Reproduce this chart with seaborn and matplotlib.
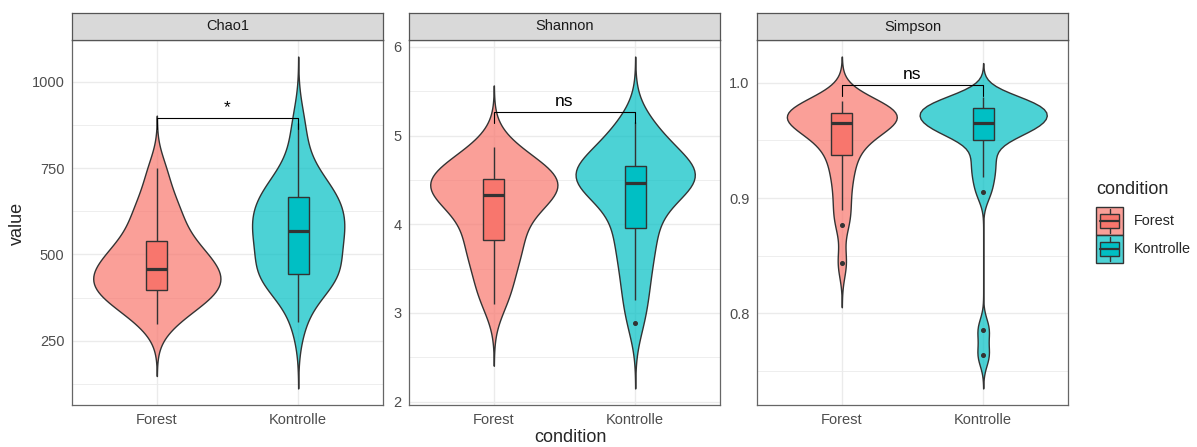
import numpy as np
import pandas as pd
import matplotlib
matplotlib.use("Agg")
import matplotlib.pyplot as plt
import seaborn as sns
from matplotlib.patches import Rectangle
from matplotlib.lines import Line2D
from matplotlib.legend_handler import HandlerBase
from matplotlib.ticker import FixedLocator

# ---------------- data ----------------
conditions = ["Forest", "Kontrolle"]
metrics = ["Chao1", "Shannon", "Simpson"]

chao1_forest = [300, 330, 350, 365, 380, 390, 397, 408, 418, 428, 438, 448, 458,
                470, 482, 495, 510, 525, 540, 565, 595, 620, 645, 690, 750]
chao1_kontrolle = [305, 390, 415, 430, 438, 442, 445, 475, 500, 520, 538, 552, 567,
                   580, 592, 605, 620, 640, 665, 670, 680, 700, 730, 790, 880]
shannon_forest = [3.10, 3.25, 3.40, 3.55, 3.68, 3.75, 3.82, 3.95, 4.05, 4.15, 4.22, 4.28, 4.33,
                  4.37, 4.40, 4.43, 4.45, 4.48, 4.51, 4.55, 4.60, 4.65, 4.70, 4.78, 4.87]
shannon_kontrolle = [2.89, 3.15, 3.35, 3.55, 3.70, 3.85, 3.96, 4.10, 4.25, 4.34, 4.41, 4.45, 4.47,
                     4.50, 4.53, 4.56, 4.59, 4.62, 4.66, 4.70, 4.76, 4.85, 4.96, 5.05, 5.15]
simpson_forest = [0.844, 0.877, 0.890, 0.905, 0.918, 0.928, 0.937, 0.945, 0.951, 0.955, 0.959,
                  0.962, 0.965, 0.967, 0.968, 0.969, 0.970, 0.972, 0.9735, 0.975, 0.977,
                  0.979, 0.980, 0.982, 0.984]
simpson_kontrolle = [0.764, 0.786, 0.905, 0.918, 0.928, 0.938, 0.9506, 0.955, 0.958, 0.960,
                     0.962, 0.964, 0.965, 0.967, 0.969, 0.971, 0.973, 0.975, 0.978, 0.979,
                     0.980, 0.981, 0.983, 0.985, 0.988]

sig_labels = ["*", "ns", "ns"]
sig_y = [894, 5.27, 0.998]

y_major_ticks = [[250, 500, 750, 1000], [2, 3, 4, 5, 6], [0.8, 0.9, 1.0]]
y_minor_ticks = [[125, 375, 625, 875], [2.5, 3.5, 4.5, 5.5], [0.75, 0.85, 0.95]]
y_tick_labels = [["250", "500", "750", "1000"], ["2", "3", "4", "5", "6"], ["0.8", "0.9", "1.0"]]

groups = {
    "Chao1": {"Forest": chao1_forest, "Kontrolle": chao1_kontrolle},
    "Shannon": {"Forest": shannon_forest, "Kontrolle": shannon_kontrolle},
    "Simpson": {"Forest": simpson_forest, "Kontrolle": simpson_kontrolle},
}
rows = []
for m in metrics:
    for c in conditions:
        for v in groups[m][c]:
            rows.append({"variable": m, "condition": c, "value": v})
df = pd.DataFrame(rows)

# ---------------- style ----------------
sns.set_style("white")
plt.rcParams["font.family"] = ["Liberation Sans", "DejaVu Sans"]

colors = {"Forest": "#F8766D", "Kontrolle": "#00BFC4"}
line_c = "#333333"


def nrd0(x):
    x = np.asarray(x, float)
    sd = x.std(ddof=1)
    q75, q25 = np.percentile(x, [75, 25])
    lo = min(sd, (q75 - q25) / 1.34)
    return 0.9 * lo * len(x) ** -0.2


def bw_nrd0(kde):
    d = np.asarray(kde.dataset).ravel()
    return nrd0(d) / d.std(ddof=1)


W, H = 1197, 447
fig = plt.figure(figsize=(W / 100, H / 100), dpi=100)

panel_left = [72, 409, 757]
panel_w = 311
panel_top, panel_bottom, strip_top = 40, 405, 13

for i, m in enumerate(metrics):
    l = panel_left[i] / W
    ax = fig.add_axes([l, 1 - panel_bottom / H, panel_w / W, (panel_bottom - panel_top) / H])
    sub = df[df["variable"] == m]

    sns.violinplot(data=sub, x="condition", y="value", hue="condition", order=conditions,
                   hue_order=conditions, palette=colors, saturation=1, inner=None, cut=3,
                   bw_method=bw_nrd0, density_norm="area", common_norm=True, width=0.9,
                   linewidth=1.0, linecolor=line_c, legend=False, ax=ax)
    for coll in ax.collections:
        fc = coll.get_facecolor()
        if len(fc):
            fc[:, 3] = 0.7
            coll.set_facecolor(fc)
    sns.boxplot(data=sub, x="condition", y="value", hue="condition", order=conditions,
                hue_order=conditions, palette=colors, saturation=1, width=0.15, linewidth=1.0,
                linecolor=line_c, showcaps=False,
                flierprops=dict(marker="o", markersize=2.6, markerfacecolor=line_c,
                                markeredgecolor=line_c),
                medianprops=dict(linewidth=2.3, color=line_c), legend=False, ax=ax)

    # axis limits following the violin tails (+5 % expansion)
    lo = min(min(groups[m][c]) - 3 * nrd0(groups[m][c]) for c in conditions)
    hi = max(max(groups[m][c]) + 3 * nrd0(groups[m][c]) for c in conditions)
    pad = 0.05 * (hi - lo)
    ax.set_ylim(lo - pad, hi + pad)
    ax.set_xlim(-0.6, 1.6)

    ax.set_yticks(y_major_ticks[i])
    ax.set_yticklabels(y_tick_labels[i])
    ax.yaxis.set_minor_locator(FixedLocator(y_minor_ticks[i]))
    ax.set_axisbelow(True)
    ax.grid(which="major", color="#EBEBEB", linewidth=1.0)
    ax.grid(which="minor", axis="y", color="#EBEBEB", linewidth=0.6)
    ax.tick_params(axis="both", which="major", length=3.5, width=0.8, color=line_c,
                   labelcolor="#4D4D4D", labelsize=10.5, pad=2)
    ax.tick_params(axis="y", which="minor", length=0)
    ax.set_xlabel("")
    ax.set_ylabel("")
    for s in ax.spines.values():
        s.set_color("#666666")
        s.set_linewidth(0.9)

    # significance bracket
    yr = ax.get_ylim()[1] - ax.get_ylim()[0]
    tip = 0.03 * yr
    y = sig_y[i]
    ax.plot([0, 0, 1, 1], [y - tip, y, y, y - tip], color="black", linewidth=0.8)
    ax.text(0.5, y + 0.008 * yr, sig_labels[i], ha="center", va="bottom", fontsize=12.5,
            color="black")

    # strip
    sax = fig.add_axes([l, 1 - panel_top / H, panel_w / W, (panel_top - strip_top) / H])
    sax.set_facecolor("#D9D9D9")
    sax.set_xticks([])
    sax.set_yticks([])
    for s in sax.spines.values():
        s.set_color("#555555")
        s.set_linewidth(0.9)
    sax.text(0.5, 0.5, m, ha="center", va="center", fontsize=10.5, color="#1A1A1A",
             transform=sax.transAxes)

fig.text(570 / W, 1 - 437 / H, "condition", ha="center", va="center", fontsize=13)
fig.text(17 / W, 1 - 223 / H, "value", ha="center", va="center", rotation=90, fontsize=13)


# ---------------- legend ----------------
class KeyHandle:
    def __init__(self, cond):
        self.cond = cond


class BoxViolinHandler(HandlerBase):
    def create_artists(self, legend, orig_handle, xdescent, ydescent, width, height,
                       fontsize, trans):
        c = colors[orig_handle.cond]
        x0, y0 = -xdescent, -ydescent
        vc = matplotlib.colors.to_rgba(c, 0.7)
        bg = Rectangle((x0, y0), width, height, facecolor=vc, edgecolor=line_c, lw=1.0,
                       transform=trans)
        bx = Rectangle((x0 + 0.15 * width, y0 + 0.25 * height), 0.7 * width, 0.5 * height,
                       facecolor=c, edgecolor=line_c, lw=1.0, transform=trans)
        cx = x0 + width / 2
        med = Line2D([x0 + 0.15 * width, x0 + 0.85 * width], [y0 + 0.5 * height] * 2,
                     color=line_c, lw=1.6, transform=trans)
        wt = Line2D([cx, cx], [y0 + 0.75 * height, y0 + 0.92 * height], color=line_c,
                    lw=1.0, transform=trans)
        wb = Line2D([cx, cx], [y0 + 0.08 * height, y0 + 0.25 * height], color=line_c,
                    lw=1.0, transform=trans)
        return [bg, bx, med, wt, wb]


fig.text(1096 / W, 1 - 190 / H, "condition", ha="left", va="center", fontsize=13)
handles = [KeyHandle(c) for c in conditions]
leg = fig.legend(handles, conditions, handler_map={KeyHandle: BoxViolinHandler()},
                 loc="upper left", bbox_to_anchor=(1096 / W, 1 - 207 / H),
                 bbox_transform=fig.transFigure, frameon=False, borderpad=0,
                 borderaxespad=0, handlelength=1.9, handleheight=2.6, labelspacing=0.0,
                 handletextpad=0.75, fontsize=10.4)

fig.savefig("out.png", dpi=100)
